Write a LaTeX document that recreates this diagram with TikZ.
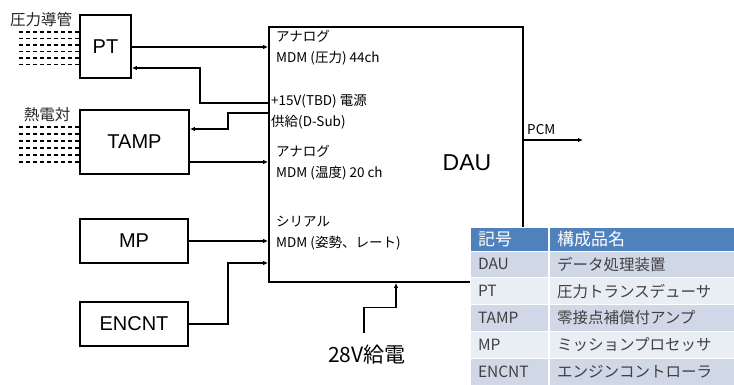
\documentclass[tikz,border=0pt]{standalone}
\usepackage{fontspec}
\setmainfont{Liberation Sans}
\newfontfamily\jp{Noto Sans CJK JP}
\usetikzlibrary{arrows.meta,positioning}
\definecolor{hdrblue}{HTML}{4F81BD}
\definecolor{rowdark}{HTML}{D0D8E8}
\definecolor{rowlight}{HTML}{E9EDF4}
\definecolor{cellink}{HTML}{404040}
\newcommand{\px}[1]{\fontsize{#1}{#1}\selectfont}

\begin{document}
\begin{tikzpicture}[
    x=1pt, y=-1pt,
    unit/.style={draw, line width=1.8pt, inner sep=0pt, font=\px{20}},
    note/.style={anchor=west, inner sep=0pt, align=left,
        font=\jp\fontsize{13.5}{21}\selectfont},
    arrow/.style={-{Latex[length=5pt,width=4.5pt]}, line width=1.3pt},
    tube/.style={line width=1.3pt, dash pattern=on 4.5pt off 2.5pt},
    cell/.style={draw=white, line width=1pt, inner xsep=8pt, inner ysep=0pt,
        align=left, font=\jp\px{15.5}, text=cellink}
]
\useasboundingbox (0,0) rectangle (734,385);

% units
\node[unit, minimum width=51pt, minimum height=63pt] (pt) at (105.5,46.5) {PT};
\node[unit, minimum width=109pt, minimum height=64pt] (tamp) at (134.5,142) {TAMP};
\node[unit, minimum width=108pt, minimum height=44pt] (mp) at (134,241) {MP};
\node[unit, minimum width=108pt, minimum height=44pt] (encnt) at (134,324) {ENCNT};
\node[unit, minimum width=254pt, minimum height=255pt] (dau) at (396,154.5) {};
\node[font=\px{23}] (daulabel) at (467,163) {DAU};

% sensor inputs
\node[font=\jp\px{15.5}, text=black!85] (tubelabel) at (41,20) {圧力導管};
\node[font=\jp\px{15.5}, text=black!85] (tclabel) at (47,115) {熱電対};
\foreach \y in {32,38.5,45,51.5,58,64.5}
  \draw[tube] (pt.west |- 0,\y) -- ++(-63,0);
\foreach \y in {127,134,141,148,155,162}
  \draw[tube] (tamp.west |- 0,\y) -- ++(-63,0);

% DAU ports
\node[note] (ana1) at (276,47.5) {アナログ\\MDM (圧力) 44ch};
\node[note] (pwr) at (271,112) {+15V(TBD) 電源\\供給(D-Sub)};
\node[note] (ana2) at (276,162.5) {アナログ\\MDM (温度) 20 ch};
\node[note] (serial) at (276,233) {シリアル\\MDM (姿勢、レート)};

% connections
\draw[arrow] (pt.east |- 0,47) -- (dau.west |- 0,47);
\draw[arrow] (dau.west |- 0,103) -| (200,68) -- (pt.east |- 0,68);
\draw[arrow] (dau.west |- 0,113) -| (228,129) -- (tamp.east |- 0,129);
\draw[arrow] (tamp.east |- 0,162) -- (dau.west |- 0,162);
\draw[arrow] (mp.east) -- (mp.east -| dau.west);
\draw[arrow] (encnt.east) -| (228,263) -- (dau.west |- 0,263);

\coordinate (pcmout) at (583,140);
\draw[arrow] (dau.east |- pcmout) -- (pcmout);
\node[anchor=west, inner sep=0pt, font=\jp\px{13.5}] (pcm) at (527,130) {PCM};

\node[font=\jp\px{21}] (v28) at (367,355) {28V給電};
\draw[arrow] ([xshift=-3pt,yshift=9pt]v28.north) -- ++(0,-25) -| (dau.south);

% legend table
\node[cell, fill=hdrblue, text=white, font=\jp\px{17}, text width=62pt, minimum height=24pt] (hsym) at (509,239) {記号};
\node[cell, fill=hdrblue, text=white, font=\jp\px{17}, text width=170pt, minimum height=24pt, right=0pt of hsym] (hname) {構成品名};
\foreach \sym/\name/\shade [count=\i] in {DAU/データ処理装置/rowdark, PT/圧力トランスデューサ/rowlight,
    TAMP/零接点補償付アンプ/rowdark, MP/ミッションプロセッサ/rowlight, ENCNT/エンジンコントローラ/rowdark} {
  \node[cell, fill=\shade, text width=62pt, minimum height=26.8pt] (sym\i) at (509,{251+26.8*\i-13.4}) {\sym};
  \node[cell, fill=\shade, text width=170pt, minimum height=26.8pt, right=0pt of sym\i] (name\i) {\name};
}
\end{tikzpicture}
\end{document}
